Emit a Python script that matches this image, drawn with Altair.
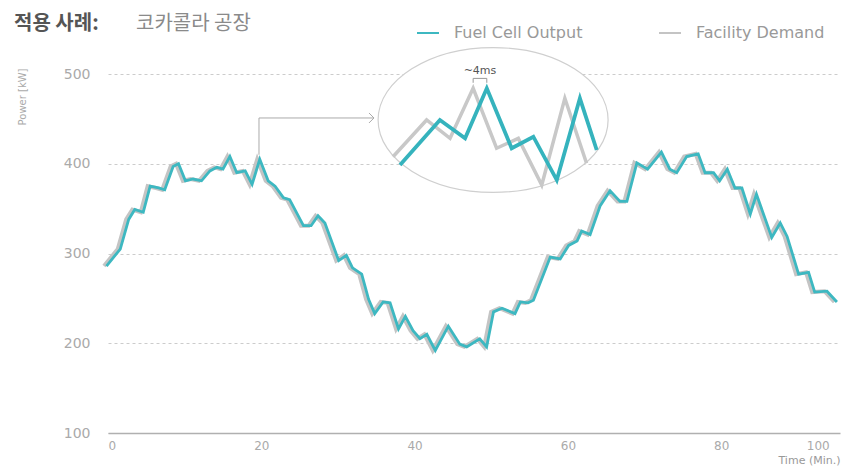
import altair as alt
import pandas as pd

# ---------------- data ----------------
time_min = [-0.2, 1.6, 2.7, 3.5, 4.6, 5.5, 6.6, 7.4, 8.5, 9.2, 10.1, 11.1, 12.2, 13.3,
            14.2, 15.0, 15.9, 16.8, 17.9, 18.8, 19.8, 20.9, 21.8, 22.9, 23.7, 25.5,
            26.5, 27.4, 28.3, 30.1, 31.1, 31.9, 33.1, 34.0, 34.8, 35.9, 36.8, 37.9,
            38.8, 39.8, 40.7, 41.6, 42.7, 44.4, 45.9, 46.8, 48.5, 49.4, 50.3, 51.4,
            53.1, 53.8, 54.8, 55.5, 57.7, 59.0, 60.1, 61.2, 61.8, 62.9, 64.2, 65.5,
            66.8, 67.7, 69.0, 70.4, 72.2, 73.3, 74.2, 75.5, 77.0, 77.9, 79.0, 79.8,
            80.8, 81.8, 82.7, 83.8, 84.6, 86.6, 87.7, 88.6, 90.1, 91.4, 92.2, 93.8, 95.1]
output_kw = [286, 305, 338, 349, 346, 375, 373, 371, 397, 400, 381, 383, 381, 392,
             396, 394, 408, 390, 392, 377, 405, 381, 375, 362, 360, 331,
             331, 342, 334, 292, 298, 284, 277, 249, 233, 246, 245, 216,
             230, 214, 205, 210, 192, 219, 199, 196, 205, 196, 235, 239,
             233, 246, 245, 248, 296, 294, 309, 314, 325, 321, 353, 370,
             358, 358, 401, 394, 413, 394, 390, 408, 411, 390, 390, 381,
             394, 373, 373, 344, 366, 318, 334, 319, 277, 279, 257, 258, 246]
# facility demand follows the same profile, slightly ahead of the output
demand_kw = list(output_kw)

# magnified detail (inset), x in ms
zoom_out_ms = [2.0, 13.4, 20.6, 26.8, 33.9, 40.1, 46.8, 53.4, 58.2]
zoom_out_val = [27.3, 68.2, 51.5, 97.0, 42.5, 53.0, 13.6, 87.9, 40.9]
zoom_dem_ms = [0.0, 9.6, 16.3, 22.9, 29.6, 35.8, 42.5, 49.1, 55.3]
zoom_dem_val = [34.8, 68.2, 51.5, 97.0, 42.5, 51.5, 9.1, 87.9, 28.8]

series_names = ["Fuel Cell Output", "Facility Demand"]
series_colors = ["#3db8c1", "#c4c4c4"]
y_ticks = [100, 200, 300, 400, 500]
x_tick_values = [0, 20, 40, 60, 80, 92.6]

title_bold = "적용 사례:"
title_rest = "코카콜라 공장"
lag_label = "~4ms"

# ---------------- tables ----------------
out_df = pd.DataFrame({"t": time_min, "kW": output_kw, "series": series_names[0]})
dem_df = pd.DataFrame({"t": time_min, "kW": demand_kw, "series": series_names[1]})
zo_df = pd.DataFrame({"ms": zoom_out_ms, "v": zoom_out_val})
zd_df = pd.DataFrame({"ms": zoom_dem_ms, "v": zoom_dem_val})
arrow_df = pd.DataFrame({"t": [19.7, 19.7, 34.7], "kW": [410, 451, 451], "o": [0, 1, 2]})
arrow_head_df = pd.DataFrame({"t": [34.7], "kW": [451]})
ellipse_df = pd.DataFrame({"ms": [28.6], "v": [68.2]})
bracket_df = pd.DataFrame({"ms": [22.9, 22.9, 26.8, 26.8], "v": [102, 106, 106, 102], "o": [0, 1, 2, 3]})
lag_df = pd.DataFrame({"ms": [24.85], "v": [113.0], "txt": [lag_label]})
one = pd.DataFrame({"a": [0]})

FONT = "DejaVu Sans"

x_main = alt.X(
    "t:Q",
    scale=alt.Scale(domain=[0, 95.5], nice=False, zero=False),
    axis=alt.Axis(
        values=x_tick_values,
        labelExpr="datum.value > 90 ? '100' : datum.label",
        grid=False, ticks=False, domain=True, domainColor="#b0b0b0", domainWidth=1.3,
        labelPadding=7, labelFontSize=12, labelColor="#aaaaaa", labelFont=FONT,
        title="Time (Min.)", titleAnchor="end", titleFontSize=11, titleColor="#999999",
        titleFontWeight="normal", titleFont=FONT, titlePadding=3,
    ),
)
y_main = alt.Y(
    "kW:Q",
    scale=alt.Scale(domain=[100, 500], nice=False, zero=False),
    axis=alt.Axis(
        values=y_ticks, grid=True, gridDash=[3, 3], gridColor="#cccccc", gridWidth=1,
        domain=False, ticks=False, labelPadding=18, labelFontSize=14,
        labelColor="#aaaaaa", labelFont=FONT,
        title="Power [kW]", titleFontSize=10, titleColor="#aaaaaa", titleFontWeight="normal",
        titleFont=FONT, titleX=-86, titleY=-6, titleAlign="right", titleBaseline="middle",
        titleAngle=-90,
    ),
)
color_enc = alt.Color(
    "series:N",
    scale=alt.Scale(domain=series_names, range=series_colors),
    legend=alt.Legend(
        orient="none", legendX=308, legendY=-53, direction="horizontal", title=None,
        symbolType="stroke", symbolSize=484, symbolStrokeWidth=2,
        labelFontSize=16, labelColor="#999999", labelFont=FONT, labelOffset=14,
        columnPadding=72,
    ),
)

grey_line = alt.Chart(dem_df).mark_line(strokeWidth=4, xOffset=-2.5).encode(
    x=x_main, y=y_main, color=color_enc
)
teal_line = alt.Chart(out_df).mark_line(strokeWidth=2.8).encode(
    x="t:Q", y="kW:Q", color=alt.Color("series:N")
)
arrow = alt.Chart(arrow_df).mark_line(color="#aaaaaa", strokeWidth=1).encode(
    x="t:Q", y="kW:Q", order="o:Q"
)
arrow_head = alt.Chart(arrow_head_df).mark_point(
    shape="M -1 -1 L 0 0 L -1 1", size=100, color="#aaaaaa", strokeWidth=1, opacity=1
).encode(x="t:Q", y="kW:Q")

title1 = alt.Chart(one).mark_text(
    text=title_bold, font="Noto Sans CJK KR", fontSize=20, fontWeight="bold",
    color="#555555", align="left", baseline="alphabetic"
).encode(x=alt.value(-94), y=alt.value(-44))
title2 = alt.Chart(one).mark_text(
    text=title_rest, font="Noto Sans CJK KR", fontSize=20, fontWeight="normal",
    color="#8a8a8a", align="left", baseline="alphabetic"
).encode(x=alt.value(28), y=alt.value(-44))

main = alt.layer(grey_line, teal_line, arrow, arrow_head, title1, title2)

# ---------------- inset ----------------
ix = alt.X("ms:Q", scale=alt.Scale(domain=[0, 60], range=[285, 495], nice=False, zero=False), axis=None)
iy = alt.Y("v:Q", scale=alt.Scale(domain=[0, 100], range=[121, 11], nice=False, zero=False), axis=None)

ellipse = alt.Chart(ellipse_df).mark_point(
    shape="M -1 0 A 1 0.63 0 1 0 1 0 A 1 0.63 0 1 0 -1 0 Z",
    size=52900, filled=True, fill="white", stroke="#cfcfcf", strokeWidth=1.2,
    opacity=1, fillOpacity=1,
).encode(x=ix, y=iy)
zoom_grey = alt.Chart(zd_df).mark_line(color="#c8c8c8", strokeWidth=3.5).encode(x="ms:Q", y="v:Q")
zoom_teal = alt.Chart(zo_df).mark_line(color="#35b3bd", strokeWidth=3.8).encode(x="ms:Q", y="v:Q")
bracket = alt.Chart(bracket_df).mark_line(color="#999999", strokeWidth=1).encode(
    x="ms:Q", y="v:Q", order="o:Q"
)
lag_text = alt.Chart(lag_df).mark_text(
    font=FONT, fontSize=11, color="#555555", align="center", baseline="middle"
).encode(x="ms:Q", y="v:Q", text="txt:N")

inset = alt.layer(ellipse, zoom_grey, zoom_teal, bracket, lag_text)

chart = alt.layer(main, inset).resolve_scale(
    x="independent", y="independent"
).properties(
    width=732, height=359,
    autosize=alt.AutoSizeParams(type="none"),
    padding={"left": 100, "top": 66, "right": 9, "bottom": 40},
).configure_view(stroke=None)

chart.save("out.html", embed_options={"renderer": "svg", "actions": False})
